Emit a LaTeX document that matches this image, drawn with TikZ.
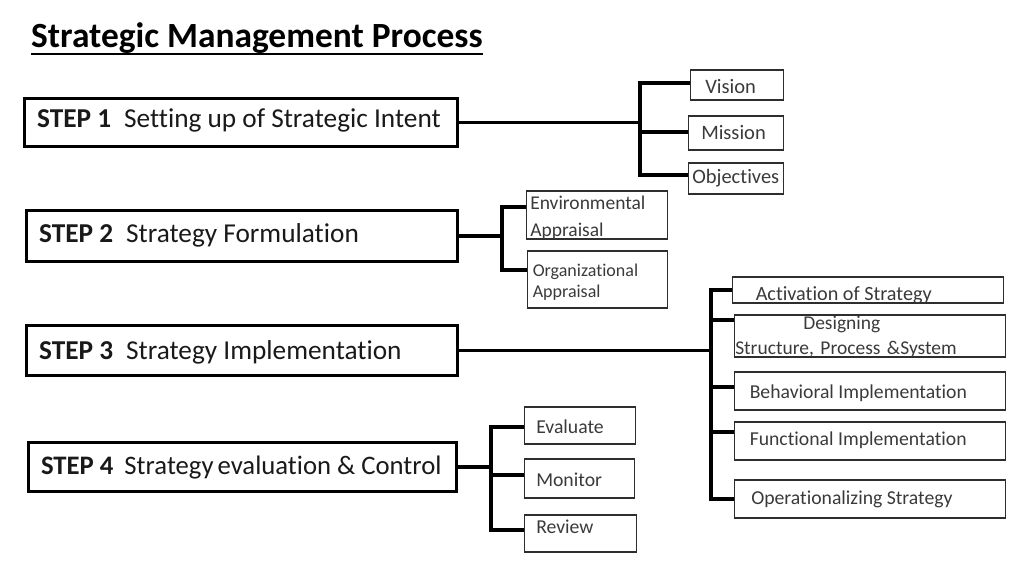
\documentclass[tikz,border=0pt]{standalone}
\usepackage{fontspec}
\setmainfont{Carlito}[Ligatures=CommonOff]
\usetikzlibrary{calc}
\definecolor{subtext}{HTML}{3A3A3A}
\definecolor{subline}{HTML}{2E2E2E}
\frenchspacing
\begin{document}
\begin{tikzpicture}[x=1pt,y=-1pt,
  stepbox/.style={draw=black, line width=3.2pt, anchor=west, inner xsep=13pt, inner ysep=0pt,
    text height=17.5pt, font=\fontsize{27.3}{30}\selectfont, text=black!90},
  subbox/.style={draw=subline, line width=1.3pt, anchor=west, inner ysep=0pt,
    font=\fontsize{19.7}{23}\selectfont, text=subtext, text height=12.6pt, text depth=0pt},
  conn/.style={line width=3.2pt, black}]
\useasboundingbox (0,0) rectangle (1024,575);

% title
\node[anchor=base west, inner sep=0pt, font=\fontsize{35.4}{40}\selectfont\bfseries] (title) at (31,48) {Strategic Management Process};
\draw[line width=2pt] ($(title.base west)+(0,6)$) -- ($(title.base east)+(0,6)$);

% steps
\node[stepbox, minimum width=433pt, minimum height=48pt, text depth=7pt] (s1) at (22.5,122.5)
  {\makebox[407pt][l]{\textbf{STEP 1}\hspace{13pt}Setting up of Strategic Intent}};
\node[stepbox, minimum width=431pt, minimum height=51pt, text depth=4pt] (s2) at (24.5,236)
  {\makebox[405pt][l]{\textbf{STEP 2}\hspace{13pt}Strategy Formulation}};
\node[stepbox, minimum width=431pt, minimum height=50pt, text depth=0pt] (s3) at (24.5,350.5)
  {\makebox[405pt][l]{\textbf{STEP 3}\hspace{13pt}Strategy Implementation}};
\node[stepbox, font=\fontsize{26.7}{30}\selectfont, minimum width=428pt, minimum height=49pt, text depth=3pt] (s4) at (26.5,467)
  {\makebox[402pt][l]{\textbf{STEP 4}\hspace{11pt}Strategy\hspace{4pt}evaluation \& Control}};

% step 1 children
\node[subbox, font=\fontsize{20.5}{24}\selectfont, text height=17.2pt, minimum width=93pt, minimum height=30pt, inner xsep=0pt] (vis) at (689.6,85) {\makebox[93pt][l]{\hspace*{15pt}Vision}};
\node[subbox, font=\fontsize{20.5}{24}\selectfont, text height=13.2pt, minimum width=95pt, minimum height=34pt, inner xsep=0pt] (mis) at (687.6,133) {\makebox[95pt][l]{\hspace*{13pt}Mission}};
\node[subbox, font=\fontsize{20.5}{24}\selectfont, text height=13.2pt, text depth=3pt, minimum width=95pt, minimum height=31pt, inner xsep=0pt] (obj) at (687.6,178.5) {Objectives};

% step 2 children
\node[subbox, align=left, text width=133pt, inner xsep=4pt, text height=15.6pt, text depth=27pt,
  font=\fontsize{19.5}{27}\selectfont, minimum width=141pt, minimum height=48pt] (env) at (525.6,215)
  {Environmental\\Appraisal};
\node[subbox, align=left, text width=129pt, inner xsep=5.5pt, text height=15.6pt, text depth=21pt,
  font=\fontsize{18}{21}\selectfont, minimum width=140pt, minimum height=57pt] (org) at (526.6,279.5)
  {Organizational\\Appraisal};

% step 3 children
\node[subbox, font=\fontsize{20.2}{24}\selectfont, text height=20.9pt, inner xsep=23.5pt, minimum width=271pt, minimum height=26pt] (act) at (731.6,290)
  {\makebox[224pt][l]{Activation of Strategy}};
\node[subbox, align=left, text width=269pt, inner xsep=1pt, text height=12.6pt, text depth=25pt,
  font=\fontsize{19.5}{25}\selectfont, minimum width=271pt, minimum height=42pt] (des) at (733.6,336)
  {\hspace*{68pt}Designing\\Structure, Process \&System};
\node[subbox, text height=14.6pt, inner xsep=15.5pt, minimum width=271pt, minimum height=38pt] (beh) at (733.6,391)
  {\makebox[240pt][l]{Behavioral Implementation}};
\node[subbox, text depth=4pt, inner xsep=15.5pt, minimum width=271pt, minimum height=38pt] (fun) at (733.6,441)
  {\makebox[240pt][l]{Functional Implementation}};
\node[subbox, text depth=2pt, inner xsep=17pt, minimum width=271pt, minimum height=38pt] (ops) at (733.6,499)
  {\makebox[237pt][l]{Operationalizing Strategy}};

% step 4 children
\node[subbox, text height=15.6pt, inner xsep=12pt, minimum width=111pt, minimum height=37pt] (eva) at (523.6,425.5)
  {\makebox[87pt][l]{Evaluate}};
\node[subbox, text height=15.6pt, inner xsep=12pt, minimum width=110pt, minimum height=39pt] (mon) at (523.6,478.5)
  {\makebox[86pt][l]{Monitor}};
\node[subbox, text depth=13pt, inner xsep=12pt, minimum width=112pt, minimum height=37pt] (rev) at (523.6,533.5)
  {\makebox[88pt][l]{Review}};

% junction coordinates
\coordinate (j1) at (640,122.5);
\coordinate (j2) at (502,236);
\coordinate (j3) at (711,350.5);
\coordinate (j4) at (491,467);

\coordinate (bvis) at ($(vis.west)+(0,-2)$);
\coordinate (bmis) at ($(mis.west)+(0,-1)$);
\coordinate (bobj) at ($(obj.west)+(0,-3.5)$);
\coordinate (benv) at ($(env.west)+(0,-8)$);
\coordinate (borg) at ($(org.west)+(0,-9.5)$);
\coordinate (bact) at (act.west);
\coordinate (bdes) at ($(des.west)+(0,-16)$);
\coordinate (bbeh) at ($(beh.west)+(0,-4)$);
\coordinate (bfun) at ($(fun.west)+(0,-9)$);
\coordinate (bops) at (ops.west);
\coordinate (beva) at ($(eva.west)+(0,1.5)$);
\coordinate (bmon) at ($(mon.west)+(0,-3.5)$);
\coordinate (brev) at ($(rev.west)+(0,-3.5)$);

% connectors step 1
\draw[conn] (s1.east) -- (j1);
\draw[conn] (bvis) -- (bvis -| j1) -- (bobj -| j1) -- (bobj);
\draw[conn] (bmis -| j1) -- (bmis);
% step 2
\draw[conn] (s2.east) -- (j2);
\draw[conn] (benv) -- (benv -| j2) -- (borg -| j2) -- (borg);
% step 3
\draw[conn] (s3.east) -- (j3);
\draw[conn] (bact) -- (bact -| j3) -- (bops -| j3) -- (bops);
\draw[conn] (bdes -| j3) -- (bdes);
\draw[conn] (bbeh -| j3) -- (bbeh);
\draw[conn] (bfun -| j3) -- (bfun);
% step 4
\draw[conn] (s4.east) -- (j4);
\draw[conn] (beva) -- (beva -| j4) -- (brev -| j4) -- (brev);
\draw[conn] (bmon -| j4) -- (bmon);
\end{tikzpicture}
\end{document}
